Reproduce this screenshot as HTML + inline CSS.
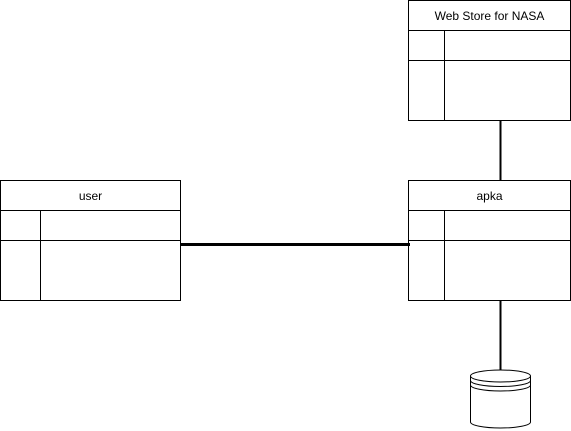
<!DOCTYPE html>
<html><head><style>body{margin:0;background:#fff}svg{display:block}</style></head><body>
<svg width="571" height="431" xmlns="http://www.w3.org/2000/svg" font-family="Liberation Sans, sans-serif" font-size="12">
<g fill="none" stroke="#000" stroke-width="1">
<rect x="408.5" y="0.5" width="162" height="120"/>
<line x1="408.5" y1="30.5" x2="570.5" y2="30.5"/>
<line x1="408.5" y1="60.5" x2="570.5" y2="60.5"/>
<line x1="444.5" y1="30.5" x2="444.5" y2="120.5"/>
<line x1="500.5" y1="120.5" x2="500.5" y2="180.5" stroke-width="2"/>
<rect x="408.5" y="180.5" width="162" height="120"/>
<line x1="408.5" y1="210.5" x2="570.5" y2="210.5"/>
<line x1="408.5" y1="240.5" x2="570.5" y2="240.5"/>
<line x1="444.5" y1="210.5" x2="444.5" y2="300.5"/>
<rect x="0.5" y="180.5" width="180" height="120"/>
<line x1="0.5" y1="210.5" x2="180.5" y2="210.5"/>
<line x1="0.5" y1="240.5" x2="180.5" y2="240.5"/>
<line x1="40.5" y1="210.5" x2="40.5" y2="300.5"/>
<line x1="180" y1="244.5" x2="410" y2="244.5" stroke-width="3"/>
<line x1="500.5" y1="300.5" x2="500.5" y2="371" stroke-width="2"/>
<path d="M470.5 376 A30 6 0 0 1 530.5 376 L530.5 422 A30 6 0 0 1 470.5 422 Z" fill="#fff"/>
<path d="M470.5 376 A30 6 0 0 0 530.5 376"/>
<path d="M470.5 380.5 A30 6 0 0 0 530.5 380.5"/>
<path d="M470.5 385 A30 6 0 0 0 530.5 385"/>
</g>
<text x="489.5" y="20" text-anchor="middle">Web Store for NASA</text>
<text x="489.5" y="200" text-anchor="middle">apka</text>
<text x="90.5" y="200" text-anchor="middle">user</text>
</svg>
</body></html>
